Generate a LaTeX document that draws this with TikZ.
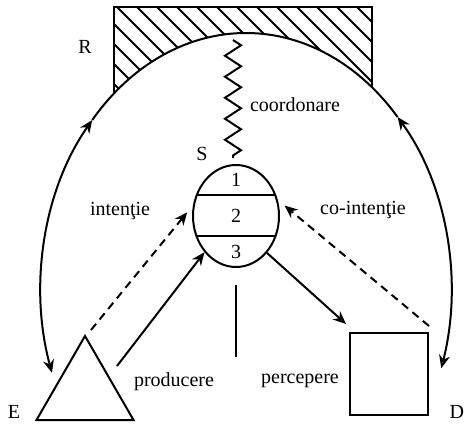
\documentclass[tikz,border=0pt]{standalone}
\usepackage{fontspec}
\setmainfont{Liberation Serif}
\usepackage{tikz}
\usetikzlibrary{arrows.meta,shapes.geometric,decorations.pathmorphing}

\tikzset{
	fulltip/.style={-{Stealth[length=6.5pt,width=5.5pt]}},
	opentip/.style={-{Stealth[open,length=6.5pt,width=5.5pt]}},
	twotips/.style={{Stealth[length=6.5pt,width=5.5pt]}-{Stealth[length=6.5pt,width=5.5pt]}},
	openfull/.style={{Stealth[open,length=6.5pt,width=5.5pt]}-{Stealth[length=6.5pt,width=5.5pt]}},
	dashline/.style={dash pattern=on 4pt off 2.8pt},
	spring/.style={decorate,decoration={zigzag,segment length=10.5pt,amplitude=4pt}},
	bigarc/.style={x radius=205,y radius=257}
}

\begin{document}
\begin{tikzpicture}[x=0.5pt,y=0.5pt,line width=1pt]
	\useasboundingbox (0,0) rectangle (466,424);
	\coordinate (O) at (246,134);
	\begin{scope}
		\clip (114,320) rectangle (372,417);
		\foreach \k in {0,...,18}
		{\draw[line width=0.9pt] (4+20*\k,430) -- ++(130,-130);}
		\fill[white] (O) ellipse [bigarc];
	\end{scope}
	\draw (114,331) -- (114,417) -- (372,417) -- (372,337);
	\draw[twotips] ([shift={(198.8:205 and 257)}]O) arc[start angle=198.8,end angle=138.6,bigarc];
	\draw ([shift={(138.6:205 and 257)}]O) arc[start angle=138.6,end angle=42.3,bigarc];
	\draw[openfull] ([shift={(-17.7:205 and 257)}]O) arc[start angle=-17.7,end angle=42.3,bigarc];
	\node (R) at (85,377) {R};
	\node (coord) at (295,319) {coordonare};
	\coordinate (zt) at (233,384);
	\coordinate (zb) at (233,266);
	\draw[spring] (zt) -- (zb);
	\node (Slbl) at (202,270) {S};
	\node[ellipse,draw,minimum width=43pt,minimum height=51pt,inner sep=0pt] (S) at (236,208) {};
	\draw ([shift={(-39.2,21)}]S.center) -- ([shift={(39.2,21)}]S.center);
	\draw ([shift={(-39.6,-20)}]S.center) -- ([shift={(39.6,-20)}]S.center);
	\node (s1) at (236,244) {1};
	\node (s2) at (236,208) {2};
	\node (s3) at (236,172) {3};
	\node[regular polygon,regular polygon sides=3,draw,minimum size=56pt,inner sep=0pt] (E) at (85,32) {};
	\node[draw,minimum width=39pt,minimum height=41pt,inner sep=0pt] (D) at (389,50) {};
	\node (Elbl) at (14,12) {E};
	\node[anchor=east,inner sep=0pt] (Dlbl) at (465,12) {D};
	\node (intl) at (120,213) {inten\c{t}ie};
	\node (cointl) at (363,214) {co-inten\c{t}ie};
	\node (prod) at (174,42) {producere};
	\node (perc) at (300,43) {percepere};
	\draw[dashline,fulltip,shorten >=4.5pt] ([shift={(6,4)}]E.corner 1) -- (S.166);
	\draw[fulltip] ([shift={(32,-32)}]E.corner 1) -- (S.229);
	\draw[opentip] (S.-50) -- ([shift={(-3,8)}]D.north west);
	\draw[dashline,fulltip,shorten >=4.4pt] ([shift={(0,6)}]D.north east) -- (S.21);
	\draw (236,139) -- (236,67);
\end{tikzpicture}
\end{document}
